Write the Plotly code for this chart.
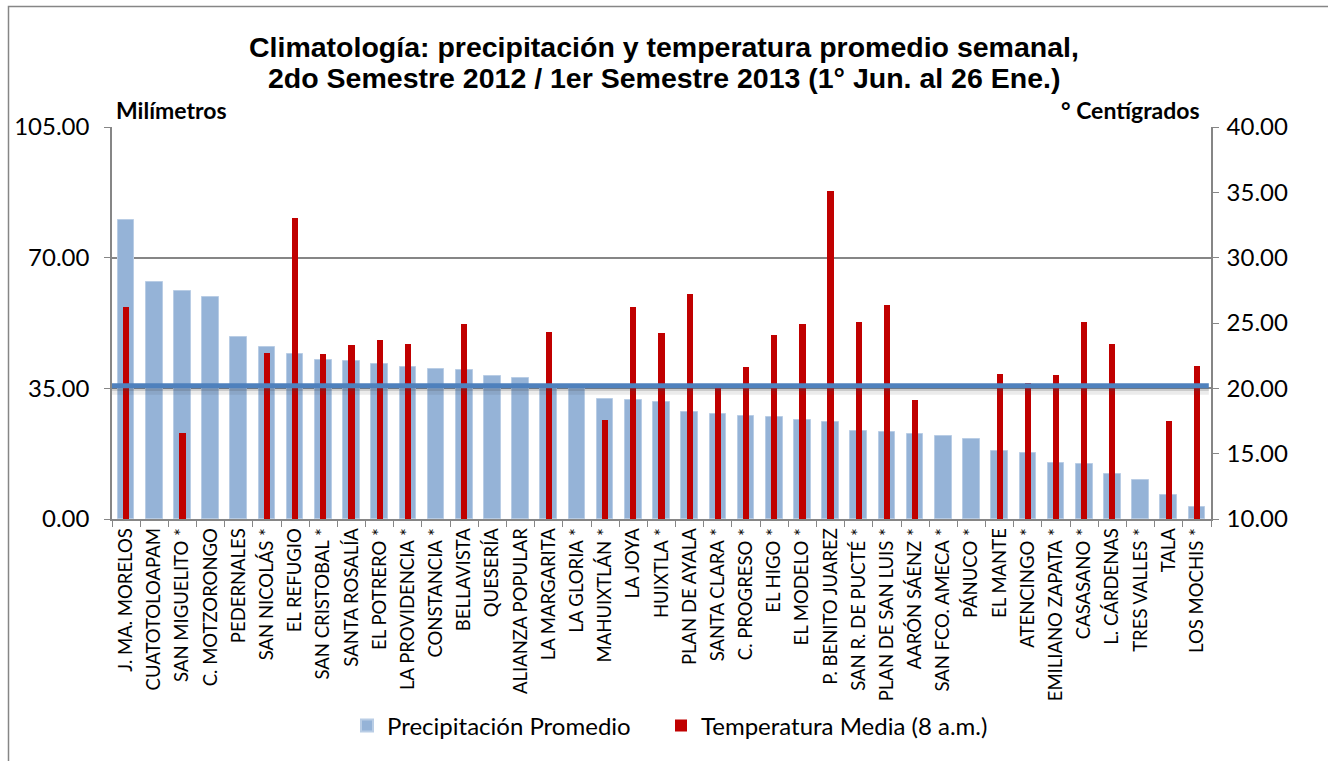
import plotly.graph_objects as go

estaciones = [
    "J. MA. MORELOS", "CUATOTOLOAPAM", "SAN MIGUELITO *", "C. MOTZORONGO", "PEDERNALES",
    "SAN NICOLÁS *", "EL REFUGIO", "SAN CRISTOBAL *", "SANTA ROSALÍA", "EL POTRERO *",
    "LA PROVIDENCIA *", "CONSTANCIA *", "BELLAVISTA", "QUESERÍA", "ALIANZA POPULAR",
    "LA MARGARITA", "LA GLORIA *", "MAHUIXTLÁN *", "LA JOYA", "HUIXTLA *",
    "PLAN DE AYALA", "SANTA CLARA *", "C. PROGRESO *", "EL HIGO *", "EL MODELO *",
    "P. BENITO JUAREZ", "SAN R. DE PUCTÉ *", "PLAN DE SAN LUIS *", "AARÓN SÁENZ *", "SAN FCO. AMECA *",
    "PÁNUCO *", "EL MANTE", "ATENCINGO *", "EMILIANO ZAPATA *", "CASASANO *",
    "L. CÁRDENAS", "TRES VALLES *", "TALA", "LOS MOCHIS *",
]

precipitacion = [
    80.2, 63.5, 61.0, 59.5, 48.8,
    46.1, 44.3, 42.6, 42.4, 41.6,
    40.8, 40.1, 39.9, 38.2, 37.7,
    36.0, 35.0, 32.1, 31.8, 31.3,
    28.7, 28.1, 27.6, 27.3, 26.6,
    25.9, 23.6, 23.2, 22.8, 22.2,
    21.4, 18.2, 17.7, 14.9, 14.7,
    12.0, 10.4, 6.4, 3.3,
]

temperatura = [
    26.2, None, 16.6, None, None,
    22.7, 33.0, 22.6, 23.3, 23.7,
    23.4, None, 24.9, None, None,
    24.3, None, 17.6, 26.2, 24.2,
    27.2, 20.0, 21.6, 24.1, 24.9,
    35.1, 25.1, 26.4, 19.1, None,
    None, 21.1, 20.4, 21.0, 25.1,
    23.4, None, 17.5, 21.7,
]

linea_promedio = 35.7  # mm (linea horizontal azul)

left_ticks = [0, 35, 70, 105]
left_labels = ["0.00", "35.00", "70.00", "105.00"]
right_ticks = [10, 15, 20, 25, 30, 35, 40]
right_labels = ["10.00", "15.00", "20.00", "25.00", "30.00", "35.00", "40.00"]

titulo_1 = "Climatología: precipitación y temperatura promedio semanal,"
titulo_2 = "2do Semestre 2012 / 1er Semestre 2013 (1° Jun. al 26 Ene.)"

GRID = "#868686"
FONT = "Lato, Carlito, Calibri, sans-serif"
TFONT = "Liberation Sans, Arial, sans-serif"

fig = go.Figure()
fig.add_trace(go.Bar(
    x=estaciones, y=precipitacion, name="Precipitación Promedio",
    marker=dict(color="#95B3D7", line=dict(color="#B9CDE5", width=1)),
    width=0.59, offset=-0.295, yaxis="y", legend="legend", showlegend=True,
))
fig.add_trace(go.Bar(
    x=estaciones, y=temperatura, name="Temperatura Media (8 a.m.)",
    marker=dict(color="#C00000", line=dict(width=0)),
    width=0.22, offset=-0.11, yaxis="y2", legend="legend2", showlegend=True,
))

# soft shadow + horizontal line
fig.add_shape(type="line", xref="x domain", yref="y", x0=0, x1=0.998,
              y0=linea_promedio - 1.6, y1=linea_promedio - 1.6,
              line=dict(color="rgba(60,60,60,0.10)", width=6), layer="above")
fig.add_shape(type="line", xref="x domain", yref="y", x0=0, x1=0.998,
              y0=linea_promedio - 0.9, y1=linea_promedio - 0.9,
              line=dict(color="rgba(60,60,60,0.18)", width=4), layer="above")
fig.add_shape(type="line", xref="x domain", yref="y", x0=0, x1=0.998,
              y0=linea_promedio, y1=linea_promedio,
              line=dict(color="#4F81BD", width=5), layer="above")

# outer chart border
fig.add_shape(type="rect", xref="paper", yref="paper",
              x0=(8.5 - 112) / 1099, x1=(1335 - 112) / 1099,
              y0=(519 - 770) / 392, y1=(519 - 6.5) / 392,
              line=dict(color="#868686", width=1.5), layer="below")

# title (two centred lines)
fig.add_annotation(text="<b>" + titulo_1 + "</b>", xref="paper", yref="paper",
                   x=(664 - 112) / 1099, y=(519 - 47) / 392, xanchor="center", yanchor="middle",
                   showarrow=False, font=dict(family=TFONT, size=28.5, color="black"))
fig.add_annotation(text="<b>" + titulo_2 + "</b>", xref="paper", yref="paper",
                   x=(664 - 112) / 1099, y=(519 - 78) / 392, xanchor="center", yanchor="middle",
                   showarrow=False, font=dict(family=TFONT, size=28.5, color="black"))

fig.add_annotation(text="<b>Milímetros</b>", xref="paper", yref="paper",
                   x=(114 - 112) / 1099, y=(519 - 110) / 392, xanchor="left", yanchor="middle",
                   showarrow=False, font=dict(family=FONT, size=23, color="black"))
fig.add_annotation(text="<b>° Centígrados</b>", xref="paper", yref="paper",
                   x=(1202 - 112) / 1099, y=(519 - 110) / 392, xanchor="right", yanchor="middle",
                   showarrow=False, font=dict(family=FONT, size=23, color="black"))

legend_common = dict(
    orientation="h", xanchor="left",
    y=(519 - 726) / 392, yanchor="middle",
    font=dict(family=FONT, size=24, color="black"),
    itemsizing="constant", itemwidth=30, visible=True,
)

fig.update_layout(
    width=1328, height=761,
    margin=dict(l=112, r=117, t=127, b=242),
    paper_bgcolor="white", plot_bgcolor="white",
    barmode="overlay",
    bargap=0,
    showlegend=True,
    xaxis=dict(
        type="category", tickangle=-90, tickson="boundaries",
        ticks="outside", ticklen=6, tickcolor=GRID,
        showline=True, linecolor=GRID, linewidth=1.5,
        showgrid=False,
        tickfont=dict(family=FONT, size=18.5, color="black"),
        range=[-0.5, len(estaciones) - 0.5],
    ),
    yaxis=dict(
        range=[0, 105], tickvals=left_ticks, ticktext=left_labels,
        showgrid=True, gridcolor=GRID, gridwidth=1.5,
        showline=True, linecolor=GRID, linewidth=1.5,
        ticks="outside", ticklen=6, tickcolor=GRID,
        zeroline=False, ticklabelstandoff=10,
        tickfont=dict(family=FONT, size=24, color="black"),
    ),
    yaxis2=dict(
        range=[10, 40], tickvals=right_ticks, ticktext=right_labels,
        overlaying="y", side="right",
        showgrid=False,
        showline=True, linecolor=GRID, linewidth=1.5,
        ticks="outside", ticklen=6, tickcolor=GRID,
        zeroline=False, ticklabelstandoff=3,
        tickfont=dict(family=FONT, size=24, color="black"),
    ),
    legend=dict(x=(347 - 112) / 1099, **legend_common),
    legend2=dict(x=(661 - 112) / 1099, **legend_common),
)

fig.write_html("out.html", config={"displayModeBar": False},
               post_script="document.body.style.margin='0';")
